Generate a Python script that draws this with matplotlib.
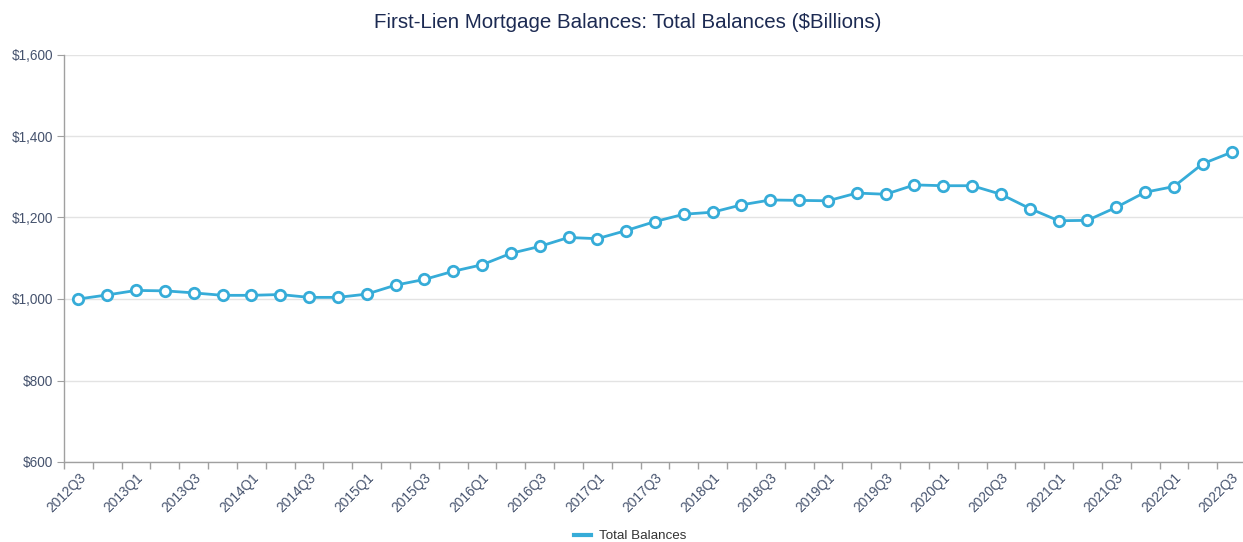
import matplotlib
matplotlib.use("Agg")
import matplotlib.pyplot as plt
from matplotlib.ticker import FuncFormatter, FixedLocator
import numpy as np

plt.rcParams['font.family'] = ['Liberation Sans', 'DejaVu Sans']

quarters = []
for y in range(2012, 2023):
    for q in range(1, 5):
        if (y == 2012 and q < 3) or (y == 2022 and q > 3):
            continue
        quarters.append(f"{y}Q{q}")

total_balances = [1000, 1010, 1021, 1020, 1015, 1009, 1009, 1011, 1004, 1004,
                  1012, 1034, 1048, 1068, 1084, 1112, 1129, 1151, 1148, 1168,
                  1190, 1208, 1213, 1231, 1243, 1242, 1241, 1260, 1257, 1280,
                  1278, 1278, 1257, 1222, 1192, 1193, 1225, 1262, 1276, 1332, 1360]

title = "First-Lien Mortgage Balances: Total Balances ($Billions)"
series_name = "Total Balances"
y_ticks = [600, 800, 1000, 1200, 1400, 1600]

line_color = "#36ACD8"
text_color = "#46536E"
title_color = "#1C2A52"

W, H = 1243, 542
fig = plt.figure(figsize=(W / 100, H / 100), dpi=100)
left, right, top, bottom = 64, 1246, 54.5, 462
ax = fig.add_axes([left / W, 1 - bottom / H, (right - left) / W, (bottom - top) / H])

x = np.arange(len(quarters))
ax.plot(x, total_balances, color=line_color, lw=2, marker='o', markersize=7.5,
        markerfacecolor='white', markeredgecolor=line_color, markeredgewidth=2,
        label=series_name, zorder=3, clip_on=False)

ax.set_xlim(-0.5, len(quarters) - 0.5)
ax.set_ylim(600, 1600)
ax.set_yticks(y_ticks)
ax.yaxis.set_major_formatter(FuncFormatter(lambda v, p: f"${v:,.0f}"))
ax.grid(axis='y', color='#E3E3E3', lw=1)
ax.set_axisbelow(True)

# category boundaries as major ticks, labels on every second category
ax.xaxis.set_major_locator(FixedLocator(np.arange(-0.5, len(quarters), 1.0)))
ax.xaxis.set_major_formatter(FuncFormatter(lambda v, p: ""))
lab_idx = list(range(0, len(quarters), 2))
ax.xaxis.set_minor_locator(FixedLocator(lab_idx))
ax.set_xticklabels([quarters[i] for i in lab_idx], minor=True)
ax.tick_params(axis='x', which='major', length=5, color='#A0A0A0', width=1)
ax.tick_params(axis='x', which='minor', length=0, pad=6, labelsize=9.9,
               labelcolor=text_color)
for lbl in ax.get_xticklabels(minor=True):
    lbl.set_rotation(45)
    lbl.set_ha('right')
    lbl.set_va('top')
    lbl.set_rotation_mode('anchor')

ax.tick_params(axis='y', length=5, color='#A0A0A0', labelsize=9.8,
               labelcolor=text_color, pad=3)

for s in ['top', 'right']:
    ax.spines[s].set_visible(False)
for s in ['left', 'bottom']:
    ax.spines[s].set_color('#A0A0A0')
    ax.spines[s].set_linewidth(1)

fig.text(628 / W, 1 - 23 / H, title, ha='center', va='center',
         fontsize=14.8, color=title_color)

handle = plt.Line2D([], [], color=line_color, lw=3)
fig.legend([handle], [series_name], loc='center', bbox_to_anchor=(630 / W, 1 - 536 / H),
           frameon=False, fontsize=9.6, handlelength=1.3, handletextpad=0.6,
           labelcolor='#333333')

fig.savefig("out.png", dpi=100)
